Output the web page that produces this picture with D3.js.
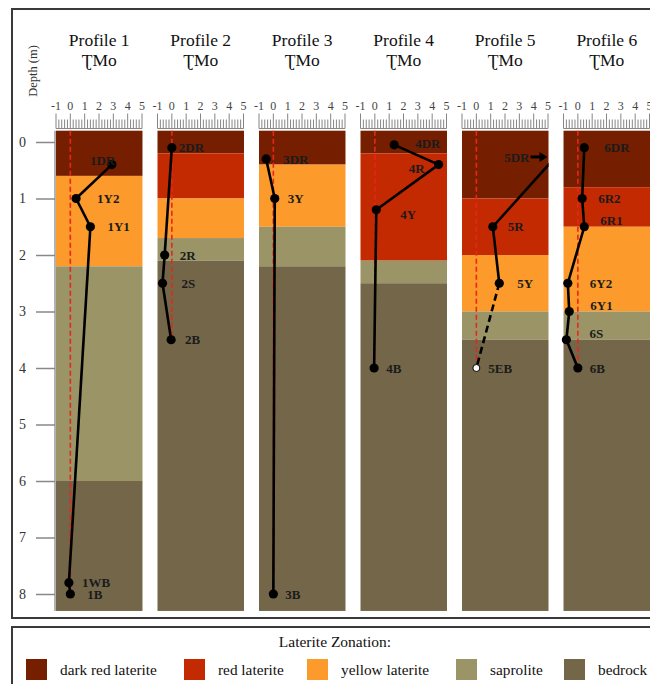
<!DOCTYPE html>
<html>
<head>
<meta charset="utf-8">
<script src="https://cdn.jsdelivr.net/npm/d3@7"></script>
<style>
  html, body { margin: 0; padding: 0; background: #fff; }
  svg { display: block; font-family: "Liberation Serif", "DejaVu Serif", serif; }
</style>
</head>
<body>
<svg id="chart" width="650" height="684"></svg>
<script>
// ---- data ----
const profiles = ["Profile 1", "Profile 2", "Profile 3", "Profile 4", "Profile 5", "Profile 6"];
const formation = "ƮMo";
const zones = ["dark red laterite", "red laterite", "yellow laterite", "saprolite", "bedrock"];
const zoneColors = ["#751f00", "#c42a02", "#fc9b2b", "#9a9466", "#736649"];
const valueTicks = [-1, 0, 1, 2, 3, 4, 5];
const depthTicks = [0, 1, 2, 3, 4, 5, 6, 7, 8];

// zone sequence and the depth (m) at which each zone ends
const layerZones = [
  ["dark red laterite", "yellow laterite", "saprolite", "bedrock"],
  ["dark red laterite", "red laterite", "yellow laterite", "saprolite", "bedrock"],
  ["dark red laterite", "yellow laterite", "saprolite", "bedrock"],
  ["dark red laterite", "red laterite", "saprolite", "bedrock"],
  ["dark red laterite", "red laterite", "yellow laterite", "saprolite", "bedrock"],
  ["dark red laterite", "red laterite", "yellow laterite", "saprolite", "bedrock"]
];
const layerBottoms = [
  [0.6, 2.2, 6.0, 8.3],
  [0.2, 1.0, 1.7, 2.1, 8.3],
  [0.4, 1.5, 2.2, 8.3],
  [0.2, 2.1, 2.5, 8.3],
  [1.0, 2.0, 3.0, 3.5, 8.3],
  [0.8, 1.5, 3.0, 3.5, 8.3]
];

// samples per profile: name, value, depth (m)
const sampleNames = [
  ["1DR", "1Y2", "1Y1", "1WB", "1B"],
  ["2DR", "2R", "2S", "2B"],
  ["3DR", "3Y", "3B"],
  ["4DR", "4R", "4Y", "4B"],
  ["5DR", "5R", "5Y", "5EB"],
  ["6DR", "6R2", "6R1", "6Y2", "6Y1", "6S", "6B"]
];
const sampleValues = [
  [2.9, 0.4, 1.4, -0.1, 0.0],
  [0.0, -0.5, -0.65, -0.05],
  [-0.5, 0.1, 0.0],
  [1.35, 4.45, 0.1, -0.05],
  [5.4, 1.15, 1.6, 0.0],
  [0.45, 0.3, 0.45, -0.7, -0.6, -0.8, 0.0]
];
const sampleDepths = [
  [0.4, 1.0, 1.5, 7.8, 8.0],
  [0.1, 2.0, 2.5, 3.5],
  [0.3, 1.0, 8.0],
  [0.05, 0.4, 1.2, 4.0],
  [0.3, 1.5, 2.5, 4.0],
  [0.1, 1.0, 1.5, 2.5, 3.0, 3.5, 4.0]
];
// 5DR lies beyond the scale; 5EB is an estimated bedrock value
const offScale = ["5DR"];
const estimated = ["5EB"];

// label placement relative to each sample point [dx, dy]
const labelOffsets = [
  [[-22, -4], [21, 0], [17, 0], [13, 0], [17, 0]],
  [[7, 0], [15, 0], [19, 0], [14, 0]],
  [[17, 0], [13, 0], [12, 0]],
  [[21, -1], [-30, 4], [24, 5], [12, 0]],
  [[0, -2], [15, 0], [18, 0], [12, 0]],
  [[20, 0], [16, 0], [16, -6], [22, 0], [21, -6], [23, -6], [12, 0]]
];

// ---- layout ----
const svg = d3.select("#chart");
const W = 650, H = 684;

const colBand = d3.scaleBand().domain(profiles).range([56, 650]).paddingInner(0.148).paddingOuter(0);
const y = d3.scaleLinear().domain([0, 8]).range([142, 594]);
const depthTop = -0.2, depthBottom = 8.3;
const zoneColor = d3.scaleOrdinal().domain(zones).range(zoneColors);

// frames
svg.append("rect").attr("x", 12).attr("y", 9).attr("width", W + 20).attr("height", 609)
  .attr("fill", "none").attr("stroke", "#3a3a3a").attr("stroke-width", 2);
svg.append("rect").attr("x", 12).attr("y", 627).attr("width", W + 20).attr("height", 80)
  .attr("fill", "none").attr("stroke", "#3a3a3a").attr("stroke-width", 2);

// depth axis
svg.append("text")
  .attr("transform", "translate(37,71) rotate(-90)")
  .attr("text-anchor", "middle").attr("font-size", 12.5).attr("fill", "#333")
  .text("Depth (m)");
const depthAxis = d3.axisLeft(y).tickValues(depthTicks).tickSize(19).tickPadding(10).tickFormat(d3.format("d"));
const gDepth = svg.append("g").attr("transform", "translate(55,0)").call(depthAxis);
gDepth.select(".domain").attr("stroke", "#999").attr("stroke-width", 1.5)
  .attr("d", `M0,${y(depthTop)}V${y(depthBottom)}`);
gDepth.selectAll(".tick line").attr("stroke", "#888").attr("stroke-width", 1.5);
gDepth.selectAll(".tick text").attr("font-family", "Liberation Serif, serif").attr("font-size", 14).attr("fill", "#333");

// profiles
profiles.forEach((p, i) => {
  const x0 = colBand(p), bw = colBand.bandwidth();
  const x = d3.scaleLinear().domain([-1, 5]).range([x0, x0 + 86]);
  const g = svg.append("g");

  // headings
  g.append("text").attr("x", x0 + bw / 2).attr("y", 46).attr("text-anchor", "middle")
    .attr("font-size", 17.5).attr("fill", "#111").text(p);
  g.append("text").attr("x", x0 + bw / 2).attr("y", 66).attr("text-anchor", "middle")
    .attr("font-size", 17.5).attr("fill", "#111").text(formation);

  // ruler
  const minor = d3.range(-1, 5.0001, 0.2).map(v => +v.toFixed(1));
  const rulerBase = 128.5;
  g.append("g").selectAll("line").data(minor).join("line")
    .attr("x1", d => x(d)).attr("x2", d => x(d))
    .attr("y1", rulerBase)
    .attr("y2", d => Number.isInteger(d) ? rulerBase - 15 : rulerBase - 9)
    .attr("stroke", "#777").attr("stroke-width", 0.9);
  g.append("line").attr("x1", x(-1)).attr("x2", x(5)).attr("y1", rulerBase).attr("y2", rulerBase)
    .attr("stroke", "#888").attr("stroke-width", 1);
  g.append("g").selectAll("text").data(valueTicks).join("text")
    .attr("x", d => x(d)).attr("y", 110).attr("text-anchor", "middle")
    .attr("font-size", 12).attr("fill", "#444").text(d => d);

  // layers
  const bottoms = layerBottoms[i];
  const layers = layerZones[i].map((z, k) => ({ zone: z, top: k === 0 ? depthTop : bottoms[k - 1], bottom: bottoms[k] }));
  g.append("g").selectAll("rect").data(layers).join("rect")
    .attr("x", x0).attr("width", bw)
    .attr("y", d => y(d.top)).attr("height", d => y(d.bottom) - y(d.top))
    .attr("fill", d => zoneColor(d.zone));

  // clip to the column
  const clipId = "clip" + i;
  svg.append("clipPath").attr("id", clipId).append("rect")
    .attr("x", x0).attr("y", y(depthTop)).attr("width", bw).attr("height", y(depthBottom) - y(depthTop));

  const samples = sampleNames[i].map((n, k) => ({
    name: n, value: sampleValues[i][k], depth: sampleDepths[i][k], off: labelOffsets[i][k]
  }));
  const maxDepth = d3.max(samples, d => d.depth);

  // zero reference line
  g.append("line").attr("x1", x(0)).attr("x2", x(0)).attr("y1", y(depthTop)).attr("y2", y(maxDepth))
    .attr("stroke", "#e8261c").attr("stroke-width", 1.6).attr("stroke-dasharray", "5,3");

  // profile line
  const line = d3.line().x(d => x(d.value)).y(d => y(d.depth));
  const lg = g.append("g").attr("clip-path", `url(#${clipId})`);
  for (let k = 0; k < samples.length - 1; k++) {
    const a = samples[k], b = samples[k + 1];
    const dashed = estimated.includes(b.name) || estimated.includes(a.name);
    lg.append("path").attr("d", line([a, b])).attr("fill", "none")
      .attr("stroke", "#000").attr("stroke-width", 2.6)
      .attr("stroke-dasharray", dashed ? "7,4" : null);
  }

  // points
  const shown = samples.filter(d => !offScale.includes(d.name));
  g.append("g").selectAll("circle").data(shown).join("circle")
    .attr("cx", d => x(d.value)).attr("cy", d => y(d.depth))
    .attr("r", d => estimated.includes(d.name) ? 3.5 : 4.6)
    .attr("fill", d => estimated.includes(d.name) ? "#fff" : "#000")
    .attr("stroke", "#000").attr("stroke-width", d => estimated.includes(d.name) ? 1 : 0);

  // labels
  shown.forEach(d => {
    g.append("text").attr("x", x(d.value) + d.off[0]).attr("y", y(d.depth) + d.off[1])
      .attr("dy", "0.35em").attr("font-size", 13).attr("font-weight", "bold").attr("fill", "#1b1b1b")
      .text(d.name);
  });

  // off-scale samples: label with an arrow pointing past the right edge
  samples.filter(d => offScale.includes(d.name)).forEach(d => {
    const ly = y(d.depth) + d.off[1];
    const xr = x0 + bw;
    g.append("text").attr("x", xr - 19).attr("y", ly).attr("dy", "0.35em").attr("text-anchor", "end")
      .attr("font-size", 13).attr("font-weight", "bold").attr("fill", "#1b1b1b").text(d.name);
    g.append("line").attr("x1", xr - 18).attr("x2", xr - 8).attr("y1", ly).attr("y2", ly)
      .attr("stroke", "#000").attr("stroke-width", 3);
    g.append("path").attr("d", `M${xr - 9},${ly - 5}L${xr - 1},${ly}L${xr - 9},${ly + 5}Z`).attr("fill", "#000");
  });
});

// legend
svg.append("text").attr("x", 335).attr("y", 647).attr("text-anchor", "middle")
  .attr("font-size", 15.5).attr("fill", "#111").text("Laterite Zonation:");
const legendX = [26, 184, 307, 456, 564];
const lg = svg.append("g").selectAll("g").data(zones).join("g")
  .attr("transform", (d, k) => `translate(${legendX[k]},659)`);
lg.append("rect").attr("width", 21).attr("height", 21).attr("fill", d => zoneColor(d));
lg.append("text").attr("x", 34).attr("y", 11).attr("dy", "0.35em")
  .attr("font-size", 15.3).attr("fill", "#111").text(d => d);
</script>
</body>
</html>
